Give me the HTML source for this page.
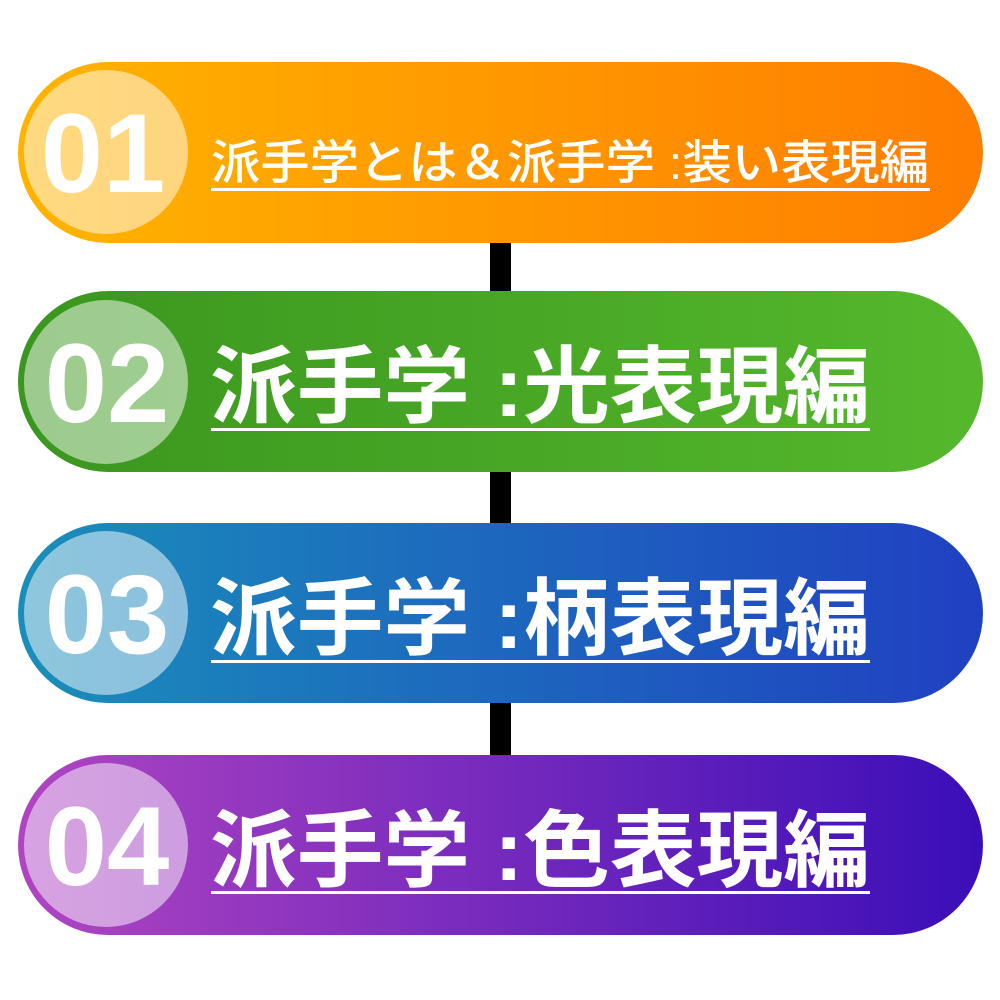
<!DOCTYPE html>
<html><head><meta charset="utf-8"><style>html,body{margin:0;padding:0;background:#fff;width:1000px;height:1000px;overflow:hidden}</style></head>
<body>
<svg width="1000" height="1000" viewBox="0 0 1000 1000" xmlns="http://www.w3.org/2000/svg">
<defs>
<linearGradient id="g1" x1="0" x2="1"><stop offset="0" stop-color="#FFB400"/><stop offset="1" stop-color="#FF7D00"/></linearGradient>
<linearGradient id="g2" x1="0" x2="1"><stop offset="0" stop-color="#3A961E"/><stop offset="1" stop-color="#55B82C"/></linearGradient>
<linearGradient id="g3" x1="0" x2="1"><stop offset="0" stop-color="#1A8EBA"/><stop offset="1" stop-color="#2040C2"/></linearGradient>
<linearGradient id="g4" x1="0" x2="1"><stop offset="0" stop-color="#B045C2"/><stop offset="1" stop-color="#3A0EB8"/></linearGradient>
</defs>
<rect x="490" y="230" width="21" height="600" fill="#000"/>
<g font-family="Liberation Sans, sans-serif" font-weight="bold" fill="#fff">
<rect x="18" y="62" width="965" height="181" rx="90.5" fill="url(#g1)"/>
<circle cx="106" cy="152" r="82" fill="#fff" fill-opacity="0.5"/>
<text x="103" y="192" font-size="112" text-anchor="middle">01</text>
<rect x="18" y="291" width="965" height="181" rx="90.5" fill="url(#g2)"/>
<circle cx="106" cy="382" r="82" fill="#fff" fill-opacity="0.5"/>
<text x="107" y="422" font-size="112" text-anchor="middle">02</text>
<rect x="18" y="523" width="965" height="180" rx="90" fill="url(#g3)"/>
<circle cx="106" cy="613" r="82" fill="#fff" fill-opacity="0.5"/>
<text x="107" y="653" font-size="112" text-anchor="middle">03</text>
<rect x="18" y="755" width="965" height="180" rx="90" fill="url(#g4)"/>
<circle cx="106" cy="845" r="82" fill="#fff" fill-opacity="0.5"/>
<text x="107" y="885" font-size="112" text-anchor="middle">04</text>
</g>
<g font-family="Liberation Sans, Noto Sans CJK JP, sans-serif" fill="#fff">
<text x="211" y="179" font-size="47" font-weight="500" textLength="718" lengthAdjust="spacingAndGlyphs">派手学とは＆派手学 :装い表現編</text>
<rect x="211" y="188" width="719" height="3"/>
<g font-weight="bold" font-size="84">
<text x="210" y="416" textLength="660" lengthAdjust="spacingAndGlyphs">派手学 :光表現編</text>
<rect x="211" y="428" width="659" height="3"/>
<text x="210" y="648" textLength="660" lengthAdjust="spacingAndGlyphs">派手学 :柄表現編</text>
<rect x="211" y="660" width="659" height="3"/>
<text x="210" y="880" textLength="660" lengthAdjust="spacingAndGlyphs">派手学 :色表現編</text>
<rect x="211" y="891" width="659" height="3"/>
</g>
</g>
</svg>
</body></html>
